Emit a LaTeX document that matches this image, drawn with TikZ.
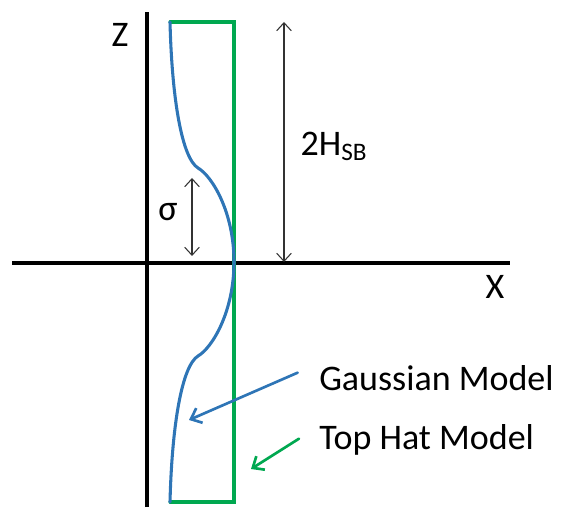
\documentclass[tikz,border=0pt]{standalone}
\usepackage{fontspec}
\setmainfont{Carlito}
\usetikzlibrary{arrows.meta}
\definecolor{gaussblue}{RGB}{46,117,182}
\definecolor{hatgreen}{RGB}{0,168,80}

\begin{document}
\begin{tikzpicture}[x=0.75pt,y=-0.75pt,line cap=round,line join=round,
  font=\fontsize{27}{32}\selectfont,
  axisline/.style={line width=3.4pt,line cap=butt},
  dimarrow/.style={{Straight Barb[length=6pt,width=11pt]}-{Straight Barb[length=6pt,width=11pt]},black!80,line width=0.8pt},
  pointer/.style={-{Straight Barb[length=7pt,width=12pt]},line width=2pt},
  txt/.style={inner sep=0pt}]
\useasboundingbox (0,0) rectangle (561,513);
% axes
\coordinate (ztop) at (147,12);
\coordinate (zbot) at (147,507);
\coordinate (xleft) at (12,263);
\coordinate (xright) at (510,263);
\draw[axisline] (zbot) -- (ztop);
\draw[axisline] (xleft) -- (xright);
\node[txt] (zlab) at (120,35) {Z};
\node[txt] (xlab) at (495,287) {X};
% top hat model (open on the left)
\draw[hatgreen,line width=2.3pt,line join=miter] (170,22) -- (234,22) -- (234,502) -- (170,502);
% gaussian model
\draw[gaussblue,line width=2.3pt] (170,22) .. controls (172,100) and (182,158) .. (198,168)
  .. controls (212,176) and (234,212) .. (234,262)
  .. controls (234,312) and (212,348) .. (198,356)
  .. controls (182,366) and (172,424) .. (170,502);
% dimensions
\coordinate (htop) at (284,22);
\coordinate (hbot) at (284,262);
\draw[dimarrow] (htop) -- (hbot);
\node[txt] (hlab) at (334,146) {2H\textsubscript{SB}};
\coordinate (stop) at (192,178);
\coordinate (sbot) at (192,256);
\draw[dimarrow] (stop) -- (sbot);
\node[txt] (slab) at (168,212) {σ};
% legend
\node[txt,anchor=west] (gauss) at (319,378) {Gaussian Model};
\node[txt,anchor=west] (tophat) at (319,440) {Top Hat Model};
\coordinate (gtip) at (189,420);
\coordinate (htip) at (251,469);
\draw[pointer,gaussblue] ([xshift=-16pt,yshift=4pt]gauss.west) -- (gtip);
\draw[pointer,hatgreen] ([xshift=-15pt,yshift=1pt]tophat.west) -- (htip);
\end{tikzpicture}
\end{document}
